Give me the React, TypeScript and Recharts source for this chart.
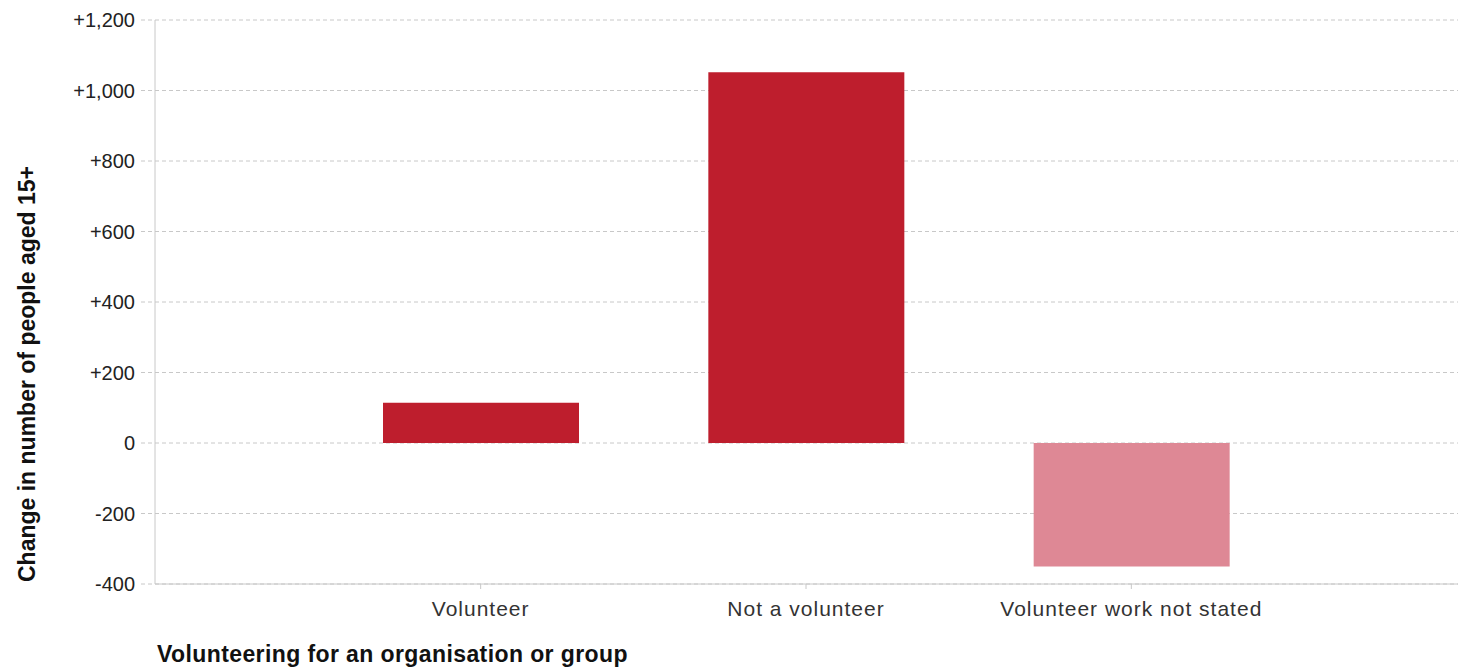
import React from "react";
import { BarChart, Bar, XAxis, YAxis, CartesianGrid, Cell, Label } from "recharts";

const categories = ["Volunteer", "Not a volunteer", "Volunteer work not stated"];
const changes = [114, 1052, -350];
const barColors = ["#BE1E2D", "#BE1E2D", "#DE8895"];
const yTicks = [-400, -200, 0, 200, 400, 600, 800, 1000, 1200];

const data = categories.map((name, i) => ({ name, value: changes[i] }));

const formatTick = (v: number) => {
  if (v === 0) return "0";
  const s = Math.abs(v).toLocaleString("en-US");
  return v > 0 ? `+${s}` : `-${s}`;
};

const FONT = "'Liberation Sans', Arial, sans-serif";

export default function App() {
  return (
    <div style={{ position: "absolute", left: 0, top: 0, background: "#fff" }}>
      <BarChart
        width={1463}
        height={671}
        data={data}
        margin={{ top: 20, right: 5, bottom: 57, left: 0 }}
        barSize={196}
      >
        <CartesianGrid vertical={false} stroke="#c8c8c8" strokeDasharray="4 3" />
        <XAxis
          dataKey="name"
          height={30}
          padding={{ left: 163, right: 164 }}
          axisLine={{ stroke: "#c8c8c8" }}
          tickLine={{ stroke: "#c8c8c8" }}
          tickSize={5}
          tick={{ fill: "#333", fontSize: 21, letterSpacing: 1, fontFamily: FONT, dy: 10 }}
        >
          <Label
            content={() => (
              <text
                x={157}
                y={662}
                fill="#111"
                fontSize={23}
                letterSpacing={0.4}
                fontWeight="bold"
                fontFamily={FONT}
              >
                Volunteering for an organisation or group
              </text>
            )}
          />
        </XAxis>
        <YAxis
          width={155}
          domain={[-400, 1200]}
          ticks={yTicks}
          interval={0}
          tickFormatter={formatTick}
          axisLine={{ stroke: "#c8c8c8" }}
          tickLine={{ stroke: "#c8c8c8", strokeDasharray: "4 3" }}
          tickSize={14}
          tick={{ fill: "#222", fontSize: 20, fontFamily: FONT, dx: -4 }}
        >
          <Label
            content={() => (
              <text
                x={35}
                y={374}
                transform="rotate(-90 35 374)"
                textAnchor="middle"
                fill="#111"
                fontSize={23}
                fontWeight="bold"
                fontFamily={FONT}
              >
                Change in number of people aged 15+
              </text>
            )}
          />
        </YAxis>
        <Bar dataKey="value" isAnimationActive={false}>
          {data.map((d, i) => (
            <Cell key={d.name} fill={barColors[i]} />
          ))}
        </Bar>
      </BarChart>
    </div>
  );
}
